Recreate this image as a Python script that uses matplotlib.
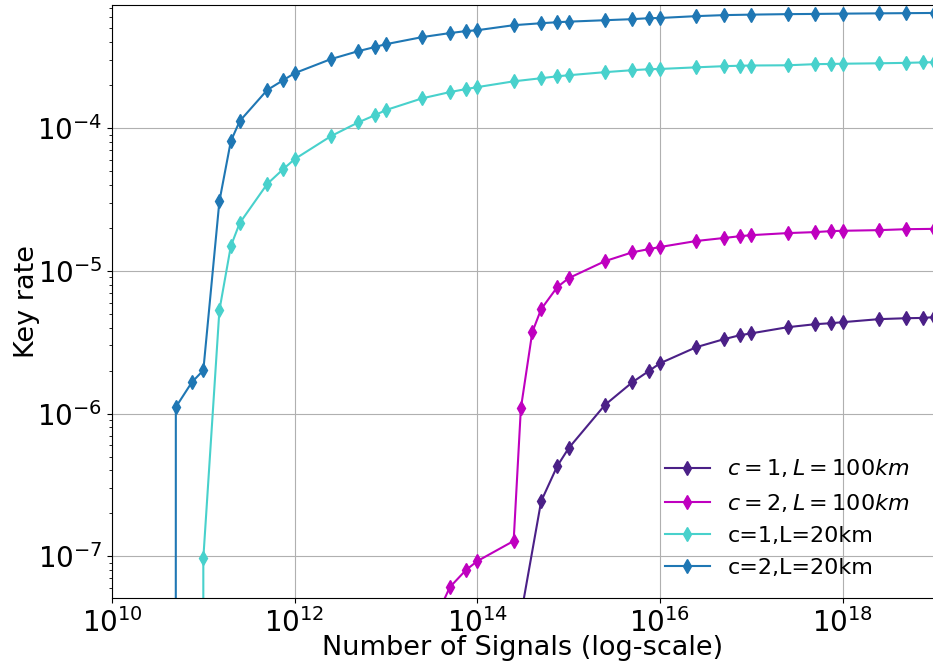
import matplotlib
matplotlib.use("Agg")
import matplotlib.pyplot as plt

# Number of signals for each curve
n_c1_100 = [2.5e14, 5e14, 7.5e14, 1e15, 2.5e15, 5e15, 7.5e15, 1e16, 2.5e16, 5e16, 7.5e16, 1e17,
            2.5e17, 5e17, 7.5e17, 1e18, 2.5e18, 5e18, 7.5e18, 1e19]
n_c2_100 = [2.5e13, 5e13, 7.5e13, 1e14, 2.5e14, 3e14, 4e14, 5e14, 7.5e14, 1e15, 2.5e15, 5e15,
            7.5e15, 1e16, 2.5e16, 5e16, 7.5e16, 1e17, 2.5e17, 5e17, 7.5e17, 1e18, 2.5e18,
            5e18, 1e19]
n_c1_20 = [5e10, 7.5e10, 1e11, 1.5e11, 2e11, 2.5e11, 5e11, 7.5e11, 1e12, 2.5e12, 5e12, 7.5e12,
           1e13, 2.5e13, 5e13, 7.5e13, 1e14, 2.5e14, 5e14, 7.5e14, 1e15, 2.5e15, 5e15, 7.5e15,
           1e16, 2.5e16, 5e16, 7.5e16, 1e17, 2.5e17, 5e17, 7.5e17, 1e18, 2.5e18, 5e18,
           7.5e18, 1e19]
n_c2_20 = [2.5e10, 5e10, 7.5e10, 1e11, 1.5e11, 2e11, 2.5e11, 5e11, 7.5e11, 1e12, 2.5e12, 5e12,
           7.5e12, 1e13, 2.5e13, 5e13, 7.5e13, 1e14, 2.5e14, 5e14, 7.5e14, 1e15, 2.5e15, 5e15,
           7.5e15, 1e16, 2.5e16, 5e16, 1e17, 2.5e17, 5e17, 1e18, 2.5e18, 5e18, 1e19]

# Key rates
r_c1_100 = [2.0e-8, 2.43e-7, 4.28e-7, 5.72e-7, 1.15e-6, 1.66e-6, 1.98e-6, 2.25e-6, 2.92e-6,
            3.32e-6, 3.54e-6, 3.65e-6, 4.03e-6, 4.23e-6, 4.30e-6, 4.37e-6, 4.59e-6, 4.66e-6,
            4.68e-6, 4.74e-6]
r_c2_100 = [2.3e-8, 6.07e-8, 8.0e-8, 9.25e-8, 1.28e-7, 1.09e-6, 3.72e-6, 5.39e-6, 7.69e-6,
            8.89e-6, 1.17e-5, 1.35e-5, 1.42e-5, 1.47e-5, 1.62e-5, 1.70e-5, 1.75e-5, 1.78e-5,
            1.84e-5, 1.87e-5, 1.90e-5, 1.91e-5, 1.93e-5, 1.96e-5, 1.97e-5]
r_c1_20 = [0, 0, 9.7e-8, 5.3e-6, 1.49e-5, 2.16e-5, 4.06e-5, 5.17e-5, 6.07e-5, 8.8e-5, 1.10e-4,
           1.23e-4, 1.34e-4, 1.62e-4, 1.79e-4, 1.88e-4, 1.94e-4, 2.13e-4, 2.24e-4, 2.31e-4,
           2.35e-4, 2.47e-4, 2.55e-4, 2.59e-4, 2.60e-4, 2.67e-4, 2.72e-4, 2.74e-4, 2.75e-4,
           2.76e-4, 2.81e-4, 2.82e-4, 2.83e-4, 2.85e-4, 2.87e-4, 2.89e-4, 2.90e-4]
r_c2_20 = [0, 1.11e-6, 1.66e-6, 2.01e-6, 3.08e-5, 8.1e-5, 1.12e-4, 1.85e-4, 2.17e-4, 2.43e-4,
           3.05e-4, 3.47e-4, 3.70e-4, 3.88e-4, 4.35e-4, 4.64e-4, 4.79e-4, 4.86e-4, 5.27e-4,
           5.44e-4, 5.53e-4, 5.58e-4, 5.71e-4, 5.81e-4, 5.90e-4, 5.92e-4, 6.10e-4, 6.20e-4,
           6.25e-4, 6.30e-4, 6.32e-4, 6.35e-4, 6.38e-4, 6.40e-4, 6.42e-4]

fig = plt.figure(figsize=(9.33, 6.66), dpi=100)
ax = fig.add_axes([112 / 933, 1 - 598 / 666, 1 - 112 / 933 + 0.001, 593 / 666])

ax.plot(n_c1_100, r_c1_100, marker="d", color="#4b2087", lw=1.5, ms=7, label=r"$c=1,L=100km$")
ax.plot(n_c2_100, r_c2_100, marker="d", color="#bf00bf", lw=1.5, ms=7, label=r"$c=2,L=100km$")
ax.plot(n_c1_20, r_c1_20, marker="d", color="#48d1cc", lw=1.5, ms=7, label="c=1,L=20km")
ax.plot(n_c2_20, r_c2_20, marker="d", color="#1f77b4", lw=1.5, ms=7, label="c=2,L=20km")

ax.set_xscale("log")
ax.set_yscale("log")
ax.set_xlim(1e10, 1e19)
ax.set_ylim(5.1e-8, 7.3e-4)
ax.grid(True)
ax.tick_params(labelsize=20)
ax.set_xlabel("Number of Signals (log-scale)", fontsize=19.5, labelpad=-2)
ax.set_ylabel("Key rate", fontsize=19.5, labelpad=-2)
ax.legend(loc="lower right", fontsize=16, frameon=False, labelspacing=0.55,
          bbox_to_anchor=(0.995, 0.0))

fig.savefig("out.png", dpi=100)
